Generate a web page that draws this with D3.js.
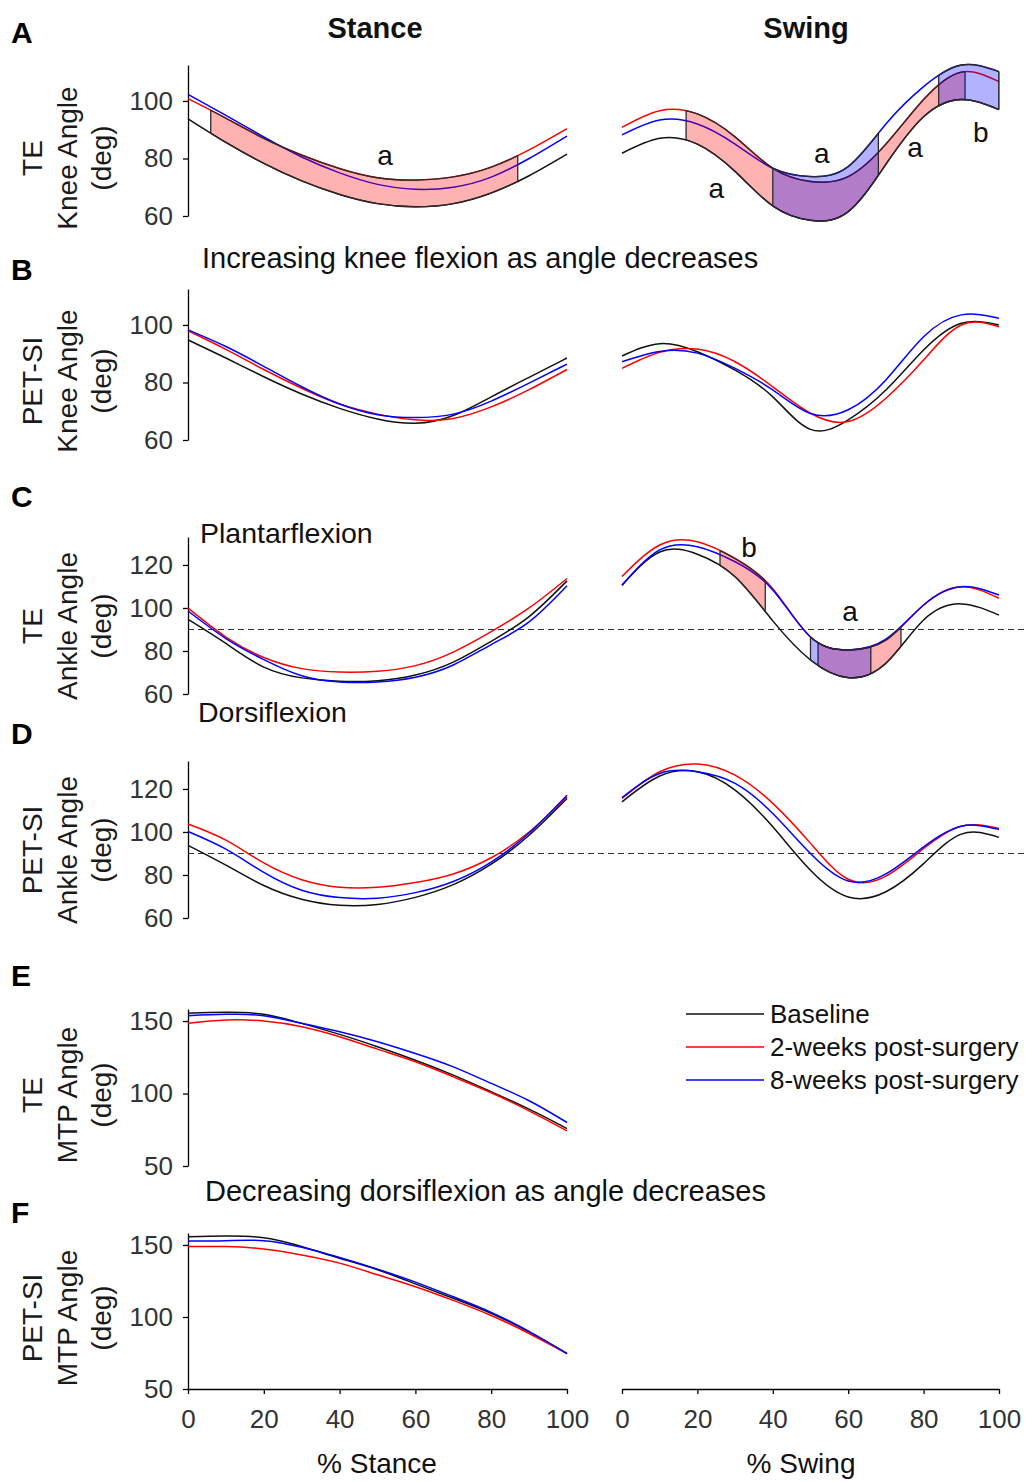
<!DOCTYPE html>
<html>
<head>
<meta charset="utf-8">
<script src="https://cdn.jsdelivr.net/npm/d3@7"></script>
<style>
body { margin: 0; background: #ffffff; }
</style>
</head>
<body>
<div id="gait" style="width:1028px;height:1482px;"></div>
<script>
//
// Joint angles over stance and swing, baseline / 2 weeks / 8 weeks after surgery
// values read at every 10 % of the phase
//

var pct = [0, 10, 20, 30, 40, 50, 60, 70, 80, 90, 100];
var xTicks = [0, 20, 40, 60, 80, 100];
var legendNames = ["Baseline", "2-weeks post-surgery", "8-weeks post-surgery"];

// A : TE knee angle
var aStanceBase  = [93.8, 85.6, 78.3, 72.2, 67.5, 64.3, 63.2, 64.3, 68.0, 74.0, 81.5];
var aStanceTwo   = [100.8, 94.0, 87.0, 81.2, 76.5, 73.3, 72.5, 73.6, 77.0, 83.0, 90.4];
var aStanceEight = [102.3, 95.0, 87.5, 80.5, 75.0, 71.0, 69.3, 70.0, 73.5, 80.0, 87.8];
var aSwingBase   = [81.8, 87.0, 85.0, 75.5, 63.5, 58.5, 61.5, 78.0, 94.5, 100.5, 97.0];
var aSwingTwo    = [90.8, 96.6, 95.5, 87.5, 76.6, 72.0, 73.7, 85.0, 100.5, 110.0, 106.7];
var aSwingEight  = [88.2, 93.4, 92.0, 85.0, 76.6, 73.7, 77.2, 92.0, 105.0, 112.5, 110.2];
var aStanceRegions = [["two", 6, 87]];
var aSwingRegions  = [["two", 17, 91], ["eight", 40, 68], ["eight", 84, 100]];
var aStanceLetters = [["a", 52, 77.7]];
var aSwingLetters  = [["a", 25, 66.3], ["a", 53, 78.4], ["a", 77.7, 80.5], ["b", 95.2, 85.7]];

// B : PET-SI knee angle
var bStanceBase  = [94.8, 88.5, 82.0, 76.0, 71.0, 67.3, 65.8, 68.5, 75.0, 81.8, 88.5];
var bStanceTwo   = [98.0, 91.5, 84.5, 78.0, 72.5, 69.0, 67.0, 67.5, 71.5, 77.5, 84.5];
var bStanceEight = [98.3, 92.5, 85.6, 78.5, 72.5, 68.8, 67.8, 69.0, 73.5, 79.8, 86.4];
var bSwingBase   = [89.2, 93.5, 90.7, 84.3, 75.0, 63.7, 67.0, 77.4, 91.3, 100.6, 100.0];
var bSwingTwo    = [84.9, 90.5, 91.6, 87.2, 78.5, 69.3, 66.4, 74.5, 87.8, 100.0, 99.4];
var bSwingEight  = [87.2, 90.8, 90.2, 84.9, 77.4, 69.2, 70.5, 80.9, 95.9, 103.5, 102.3];

// C : TE ankle angle
var cStanceBase  = [94.7, 83.5, 72.5, 67.5, 65.9, 66.2, 68.8, 74.8, 84.5, 96.0, 112.6];
var cStanceTwo   = [99.9, 86.5, 77.0, 71.8, 70.2, 70.6, 73.2, 79.5, 89.0, 100.0, 113.7];
var cStanceEight = [98.6, 85.8, 76.0, 68.5, 65.6, 65.6, 67.8, 73.5, 83.0, 93.5, 110.3];
var cSwingBase   = [110.5, 126.0, 125.0, 114.5, 94.0, 75.8, 67.6, 74.3, 94.4, 101.9, 96.7];
var cSwingTwo    = [114.6, 129.3, 130.8, 123.0, 109.0, 86.5, 80.5, 85.0, 101.4, 109.9, 104.5];
var cSwingEight  = [110.7, 127.0, 128.5, 121.5, 108.4, 86.5, 80.5, 85.5, 101.4, 109.9, 106.0];
var cSwingRegions = [["two", 26, 38], ["two", 52, 74], ["eight", 50, 66]];
var cSwingLetters = [["b", 33.7, 123.7], ["a", 60.5, 94.0]];

// D : PET-SI ankle angle
var dStanceBase  = [93.8, 84.6, 75.1, 68.7, 65.9, 66.3, 69.6, 75.5, 85.0, 98.5, 115.6];
var dStanceTwo   = [103.7, 96.2, 85.6, 77.8, 74.3, 74.3, 76.5, 80.5, 88.0, 100.0, 116.3];
var dStanceEight = [100.2, 92.0, 81.2, 72.9, 69.5, 69.2, 71.8, 77.0, 86.0, 99.5, 117.1];
var dSwingBase   = [114.0, 126.0, 128.0, 119.5, 102.4, 82.2, 69.8, 72.2, 85.3, 99.0, 97.5];
var dSwingTwo    = [115.6, 128.0, 131.6, 126.4, 113.3, 94.7, 78.0, 79.5, 92.3, 102.7, 101.6];
var dSwingEight  = [116.0, 127.2, 128.0, 122.6, 108.6, 90.0, 77.2, 80.5, 93.1, 102.7, 101.2];

// E : TE MTP angle
var eStanceBase  = [155.3, 156.0, 154.6, 148.4, 140.8, 132.3, 123.0, 112.7, 101.2, 89.2, 75.8];
var eStanceTwo   = [148.4, 150.7, 150.0, 146.1, 139.2, 130.6, 121.9, 111.5, 100.5, 88.0, 74.2];
var eStanceEight = [153.7, 154.6, 153.7, 148.4, 142.6, 135.7, 127.6, 118.4, 107.0, 95.0, 80.0];

// F : PET-SI MTP angle
var fStanceBase  = [155.7, 156.2, 155.0, 148.9, 140.8, 132.8, 123.0, 113.0, 102.5, 89.5, 74.6];
var fStanceTwo   = [148.9, 148.9, 147.2, 143.1, 137.4, 129.3, 121.0, 111.5, 101.0, 88.5, 74.6];
var fStanceEight = [152.8, 153.0, 153.0, 148.4, 141.3, 133.2, 124.2, 114.0, 103.2, 90.0, 74.6];

//
// colours and fonts
//

var colors = {base: "#111111", two: "#ff0000", eight: "#0000ff"};
var font = "'Liberation Sans', Arial, sans-serif";

//
// panel table built from the arrays above
//

var panels = [
	{letter: "A", letterY: 43, bottom: 216, top: 65, lo: 60, hi: 112.5, ticks: [60, 80, 100],
	 label: ["TE", "Knee Angle", "(deg)"], labelY: 158, dashed: false,
	 stance: [aStanceBase, aStanceTwo, aStanceEight], swing: [aSwingBase, aSwingTwo, aSwingEight],
	 stanceRegions: aStanceRegions, swingRegions: aSwingRegions,
	 stanceLetters: aStanceLetters, swingLetters: aSwingLetters},
	{letter: "B", letterY: 280, bottom: 440, top: 289, lo: 60, hi: 112.5, ticks: [60, 80, 100],
	 label: ["PET-SI", "Knee Angle", "(deg)"], labelY: 381, dashed: false,
	 stance: [bStanceBase, bStanceTwo, bStanceEight], swing: [bSwingBase, bSwingTwo, bSwingEight],
	 stanceRegions: [], swingRegions: [], stanceLetters: [], swingLetters: []},
	{letter: "C", letterY: 507, bottom: 694, top: 537, lo: 60, hi: 133, ticks: [60, 80, 100, 120],
	 label: ["TE", "Ankle Angle", "(deg)"], labelY: 626, dashed: true,
	 stance: [cStanceBase, cStanceTwo, cStanceEight], swing: [cSwingBase, cSwingTwo, cSwingEight],
	 stanceRegions: [], swingRegions: cSwingRegions, stanceLetters: [], swingLetters: cSwingLetters},
	{letter: "D", letterY: 744, bottom: 918, top: 761, lo: 60, hi: 133, ticks: [60, 80, 100, 120],
	 label: ["PET-SI", "Ankle Angle", "(deg)"], labelY: 850, dashed: true,
	 stance: [dStanceBase, dStanceTwo, dStanceEight], swing: [dSwingBase, dSwingTwo, dSwingEight],
	 stanceRegions: [], swingRegions: [], stanceLetters: [], swingLetters: []},
	{letter: "E", letterY: 986, bottom: 1166, top: 1009, lo: 50, hi: 158.3, ticks: [50, 100, 150],
	 label: ["TE", "MTP Angle", "(deg)"], labelY: 1095, dashed: false,
	 stance: [eStanceBase, eStanceTwo, eStanceEight], swing: null,
	 stanceRegions: [], swingRegions: [], stanceLetters: [], swingLetters: []},
	{letter: "F", letterY: 1223, bottom: 1389, top: 1233, lo: 50, hi: 158.3, ticks: [50, 100, 150],
	 label: ["PET-SI", "MTP Angle", "(deg)"], labelY: 1318, dashed: false,
	 stance: [fStanceBase, fStanceTwo, fStanceEight], swing: null,
	 stanceRegions: [], swingRegions: [], stanceLetters: [], swingLetters: []}
];

var seriesKeys = ["base", "two", "eight"];

//
// svg and x scales
//

var svg = d3.select("#gait").append("svg")
	.attr("width", 1028)
	.attr("height", 1482)
	.style("font-family", font);

var xStance = d3.scaleLinear().domain([0, 100]).range([188, 567]);
var xSwing = d3.scaleLinear().domain([0, 100]).range([622, 999]);

//
// find y of a drawn path at screen x (paths run left to right)
//

function yAtX(node, px) {
	var lo = 0, hi = node.getTotalLength();
	for (var i = 0; i < 40; i++) {
		var mid = (lo + hi) / 2;
		if (node.getPointAtLength(mid).x < px) lo = mid; else hi = mid;
	}
	return node.getPointAtLength((lo + hi) / 2).y;
}

var clipCount = 0;

function drawPhase(g, x, y, series, regions, letters) {
	var line = d3.line()
		.curve(d3.curveNatural)
		.x(function(d, i) { return x(pct[i]); })
		.y(function(d) { return y(d); });

	var nodes = {};
	seriesKeys.forEach(function(k, j) {
		nodes[k] = g.append("path")
			.attr("d", line(series[j]))
			.attr("fill", "none")
			.style("stroke", colors[k])
			.style("stroke-width", 1.5)
			.node();
	});

//
// shaded significant regions between baseline and a post-surgery curve
//
	regions.forEach(function(r) {
		var vals = series[seriesKeys.indexOf(r[0])];
		var id = "clip" + (clipCount++);
		g.append("clipPath").attr("id", id)
			.append("rect")
			.attr("x", x(r[1]))
			.attr("width", x(r[2]) - x(r[1]))
			.attr("y", 0)
			.attr("height", 1482);

		var area = d3.area()
			.curve(d3.curveNatural)
			.x(function(d, i) { return x(pct[i]); })
			.y0(function(d, i) { return y(series[0][i]); })
			.y1(function(d) { return y(d); });

		g.append("path")
			.attr("d", area(vals))
			.attr("clip-path", "url(#" + id + ")")
			.style("fill", colors[r[0]])
			.style("fill-opacity", 0.3)
			.style("stroke", "#2a2a2a")
			.style("stroke-width", 1.3);

		[r[1], r[2]].forEach(function(v) {
			var px = x(v);
			g.append("line")
				.attr("x1", px).attr("x2", px)
				.attr("y1", yAtX(nodes.base, px))
				.attr("y2", yAtX(nodes[r[0]], px))
				.style("stroke", "#2a2a2a")
				.style("stroke-width", 1.3);
		});
	});

	letters.forEach(function(t) {
		g.append("text")
			.attr("x", x(t[1]))
			.attr("y", y(t[2]))
			.attr("text-anchor", "middle")
			.style("font-size", "28px")
			.style("fill", "#111")
			.text(t[0]);
	});
}

//
// draw every panel
//

panels.forEach(function(p) {
	var y = d3.scaleLinear().domain([p.lo, p.hi]).range([p.bottom, p.top]);
	var g = svg.append("g");

	g.append("text")
		.attr("x", 11)
		.attr("y", p.letterY)
		.style("font-size", "30px")
		.style("font-weight", "bold")
		.style("fill", "#000")
		.text(p.letter);

	var axisY = g.append("g")
		.attr("transform", "translate(188,0)")
		.call(d3.axisLeft(y).tickValues(p.ticks).tickSize(5).tickSizeOuter(0).tickPadding(10))
		.attr("font-family", font)
		.attr("font-size", 26)
		.attr("color", "#000");
	axisY.selectAll("text").style("fill", "#333");
	axisY.selectAll("path, line").style("stroke-width", 1.3);

	[42, 77, 111].forEach(function(bx, i) {
		g.append("text")
			.attr("transform", "translate(" + bx + "," + p.labelY + ") rotate(-90)")
			.attr("text-anchor", "middle")
			.style("font-size", "28px")
			.style("fill", "#1a1a1a")
			.text(p.label[i]);
	});

	if (p.dashed) {
		g.append("line")
			.attr("x1", 188).attr("x2", 1028)
			.attr("y1", y(90)).attr("y2", y(90))
			.style("stroke", "#333")
			.style("stroke-width", 1.2)
			.style("stroke-dasharray", "6,4");
	}

	drawPhase(g, xStance, y, p.stance, p.stanceRegions, p.stanceLetters);
	if (p.swing) drawPhase(g, xSwing, y, p.swing, p.swingRegions, p.swingLetters);

	if (p.letter == "F") {
		[xStance, xSwing].forEach(function(x) {
			var axisX = g.append("g")
				.attr("transform", "translate(0," + p.bottom + ")")
				.call(d3.axisBottom(x).tickValues(xTicks).tickSize(5).tickSizeOuter(0).tickPadding(16))
				.attr("font-family", font)
				.attr("font-size", 26)
				.attr("color", "#000");
			axisX.selectAll("text").style("fill", "#333");
			axisX.selectAll("path, line").style("stroke-width", 1.3);
		});
	}
});

//
// titles, notes, x labels and legend
//

function addText(x, y, txt, size, anchor, weight) {
	svg.append("text")
		.attr("x", x)
		.attr("y", y)
		.attr("text-anchor", anchor)
		.style("font-size", size + "px")
		.style("font-weight", weight)
		.style("fill", "#111")
		.text(txt);
}

addText(375, 38, "Stance", 29, "middle", "bold");
addText(806, 38, "Swing", 29, "middle", "bold");
addText(202, 268, "Increasing knee flexion as angle decreases", 29, "start", "normal");
addText(200, 543, "Plantarflexion", 28.5, "start", "normal");
addText(198, 722, "Dorsiflexion", 28.5, "start", "normal");
addText(205, 1201, "Decreasing dorsiflexion as angle decreases", 29, "start", "normal");
addText(377, 1473, "% Stance", 28, "middle", "normal");
addText(801, 1473, "% Swing", 28, "middle", "normal");

var legend = svg.append("g").attr("transform", "translate(686,1014)");
legendNames.forEach(function(name, i) {
	legend.append("line")
		.attr("x1", 0).attr("x2", 78)
		.attr("y1", i * 33).attr("y2", i * 33)
		.style("stroke", colors[seriesKeys[i]])
		.style("stroke-width", 1.5);
	legend.append("text")
		.attr("x", 84)
		.attr("y", i * 33)
		.attr("dy", "0.35em")
		.style("font-size", "26px")
		.style("fill", "#111")
		.text(name);
});
</script>
</body>
</html>
